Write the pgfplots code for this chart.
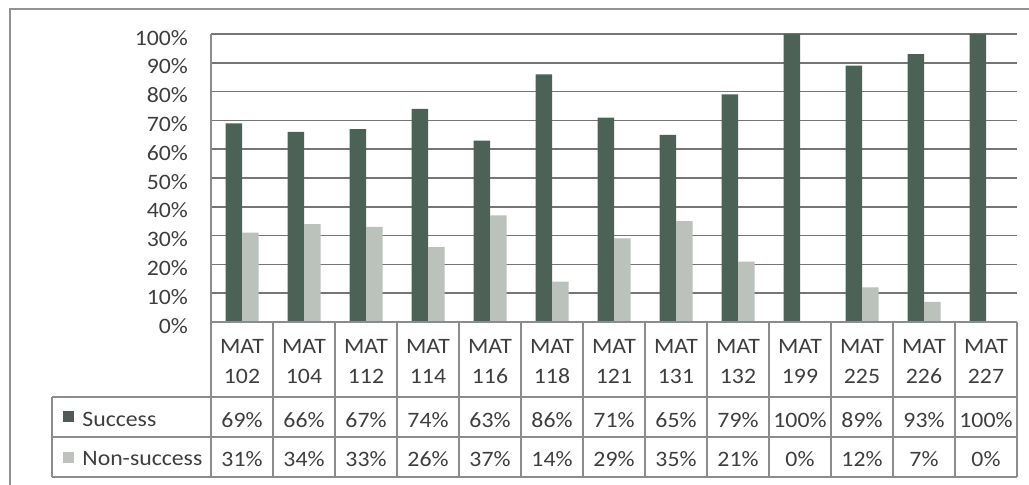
\documentclass[border=0pt]{standalone}
\usepackage{fontspec}
\setmainfont{Carlito}[FakeStretch=1.08]
\usepackage{pgfplots}
\usepackage{pgfplotstable}
\pgfplotsset{compat=1.18}

\definecolor{succ}{RGB}{76,98,87}
\definecolor{nons}{RGB}{186,194,187}
\definecolor{succkey}{RGB}{82,90,85}
\definecolor{nonskey}{RGB}{190,193,190}
\definecolor{gridc}{RGB}{118,118,118}
\definecolor{tabc}{RGB}{140,140,140}
\definecolor{txt}{RGB}{62,62,62}

% success / non-success rates per course (percent)
\pgfplotstableread{
x course succ nons
0  102  69 31
1  104  66 34
2  112  67 33
3  114  74 26
4  116  63 37
5  118  86 14
6  121  71 29
7  131  65 35
8  132  79 21
9  199 100  0
10 225  89 12
11 226  93  7
12 227 100  0
}\rates

\begin{document}
\begin{tikzpicture}[font=\fontsize{11}{13}\selectfont, text=txt]
\begin{axis}[
  at={(105.5pt,-161pt)}, anchor=south west,
  scale only axis, width=403pt, height=144pt,
  xmin=-0.5, xmax=12.5, ymin=0, ymax=100,
  xtick=\empty,
  ytick={0,10,...,100},
  yticklabels={0\%,10\%,20\%,30\%,40\%,50\%,60\%,70\%,80\%,90\%,100\%},
  yticklabel style={anchor=east, xshift=-8pt, yshift=-1.8pt, text=txt},
  ymajorgrids,
  major grid style={draw=gridc, line width=0.8pt},
  axis line style={draw=none},
  major tick length=0pt,
  ybar=0pt, bar width=8.25pt,
  clip=false,
]
\addplot[fill=succ, draw=none, bar shift=-4.125pt] table[x=x, y=succ] {\rates};
\addplot[fill=nons, draw=none, bar shift=4.125pt] table[x=x, y=nons] {\rates};
\end{axis}

% data table under the plot, in pixel units (y downwards)
\begin{scope}[x=0.5pt, y=-0.5pt]
\useasboundingbox (0,0) rectangle (1029,485);
\draw[gray!85, line width=0.75pt] (10,485) -- (10,9) -- (1029,9);
\begin{scope}[tabc, line width=0.7pt]
\draw (211,34) -- (211,477);
\foreach \k in {1,...,13} \draw ({211+62*\k},322) -- ({211+62*\k},477);
\draw (211,322) -- (1017,322);
\foreach \yy in {397,437,477} \draw (52,\yy) -- (1017,\yy);
\draw (52,397) -- (52,477);
\end{scope}
\fill[succkey] (63,411) rectangle (74,422);
\fill[nonskey] (63,452) rectangle (74,463);
\node[anchor=base west, inner sep=0] at (82,427) {Success};
\node[anchor=base west, inner sep=0] at (82,466) {Non-success};
\pgfplotstableforeachcolumnelement{course}\of\rates\as\cname{%
  \node[anchor=base, inner sep=0] at ({242+62*\pgfplotstablerow},354) {MAT};
  \node[anchor=base, inner sep=0] at ({242+62*\pgfplotstablerow},384) {\cname};
}
\pgfplotstableforeachcolumnelement{succ}\of\rates\as\val{%
  \node[anchor=base, inner sep=0] at ({242+62*\pgfplotstablerow},428) {\val\%};
}
\pgfplotstableforeachcolumnelement{nons}\of\rates\as\val{%
  \node[anchor=base, inner sep=0] at ({242+62*\pgfplotstablerow},467) {\val\%};
}
\end{scope}
\end{tikzpicture}
\end{document}
